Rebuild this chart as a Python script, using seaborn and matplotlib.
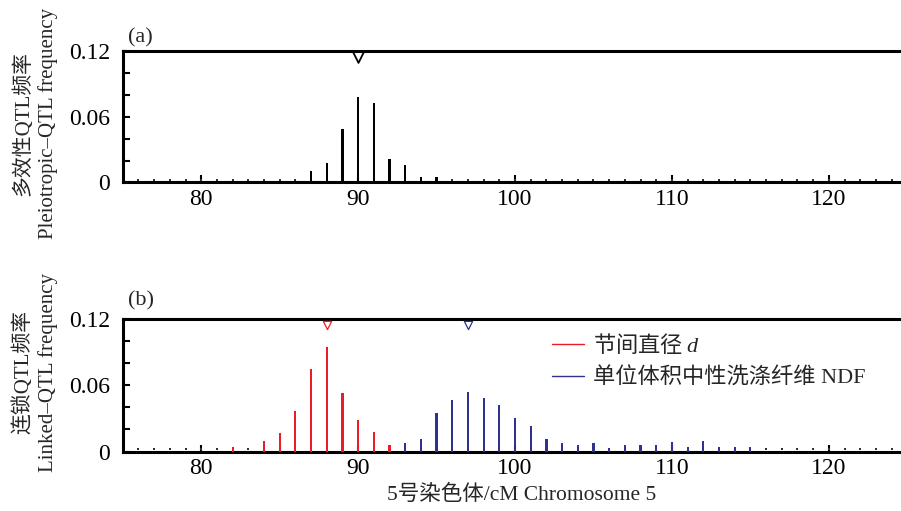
import matplotlib
matplotlib.use("Agg")
import matplotlib.pyplot as plt
from matplotlib.lines import Line2D
from matplotlib.ticker import FixedLocator
import seaborn as sns
import pandas as pd

# ---------------- data ----------------
marker_positions = [76, 77, 78, 79, 80, 81, 82, 83, 84, 85, 86, 87, 88, 89, 90,
                    91, 92, 93, 94, 95, 96, 97, 98, 99, 100, 101, 102, 103, 104,
                    105, 106, 107, 108, 109, 110, 111, 112, 113, 114, 115, 116,
                    117, 118, 119, 120, 121, 122, 123, 124]

pleio_pos = [87, 88, 89, 90, 91, 92, 93, 94, 95]
pleio_freq = [0.010, 0.018, 0.049, 0.078, 0.072, 0.021, 0.0155, 0.005, 0.005]
pleio_peak = [90]

d_pos = [82, 84, 85, 86, 87, 88, 89, 90, 91, 92]
d_freq = [0.0045, 0.010, 0.017, 0.037, 0.075, 0.095, 0.053, 0.029, 0.0175, 0.006]
d_peak = [88]

ndf_pos = [93, 94, 95, 96, 97, 98, 99, 100, 101, 102, 103, 104, 105, 106, 107,
           108, 109, 110, 111, 112, 113, 114, 115]
ndf_freq = [0.008, 0.0114, 0.0347, 0.0468, 0.0544, 0.049, 0.042, 0.0307, 0.0232,
            0.0114, 0.0075, 0.0056, 0.0075, 0.0035, 0.0056, 0.006, 0.006, 0.0084,
            0.0044, 0.0098, 0.0044, 0.0044, 0.0044]
ndf_peak = [97]

x_ticks = [80, 90, 100, 110, 120]
y_major = [0, 0.06, 0.12]
y_major_labels = ["0", "0.06", "0.12"]
y_minor = [0.02, 0.04, 0.08, 0.10]

label_d = "节间直径 $d$"
label_ndf = "单位体积中性洗涤纤维 NDF"
ylabel_top = "多效性QTL频率\nPleiotropic–QTL frequency"
ylabel_bot = "连锁QTL频率\nLinked–QTL frequency"
xlabel = "5号染色体/cM Chromosome 5"

# ---------------- style ----------------
RED = "#ED1C24"
BLUE = "#2E3192"
BLACK = "#000000"
DOT_H = 0.0025
FS_TICK = 17
FS_LAB = 15
FS_LEG = 16

sns.set_theme(style="ticks")
plt.rcParams["font.family"] = ["Liberation Serif", "Noto Sans CJK SC"]
plt.rcParams["mathtext.fontset"] = "custom"
plt.rcParams["mathtext.rm"] = "Noto Sans CJK SC"
plt.rcParams["mathtext.it"] = "Liberation Serif:italic"
plt.rcParams["axes.unicode_minus"] = False

fig = plt.figure(figsize=(9.01, 5.11), dpi=100)
ax1 = fig.add_axes([0.1363, 0.6429, 0.8637, 0.258])
ax2 = fig.add_axes([0.1363, 0.1164, 0.8637, 0.2587])

dots = pd.DataFrame({"pos": marker_positions, "h": [DOT_H] * len(marker_positions)})


def draw_dots(ax):
    sns.scatterplot(data=dots, x="pos", y="h", marker="s", s=3, color="#333333",
                    linewidth=0, ax=ax, zorder=2)


def draw_bars(ax, pos, freq, color):
    df = pd.DataFrame({"pos": pos, "freq": freq})
    sns.barplot(data=df, x="pos", y="freq", native_scale=True, orient="x",
                width=0.14, color=color, saturation=1, errorbar=None,
                linewidth=0, ax=ax, zorder=3)


def draw_peak(ax, pos, color, size, lw):
    df = pd.DataFrame({"pos": pos, "h": [0.1145] * len(pos)})
    sns.scatterplot(data=df, x="pos", y="h", marker="v", s=size,
                    facecolor="white", edgecolor=color, linewidth=lw, ax=ax,
                    zorder=5)


draw_dots(ax1)
draw_bars(ax1, pleio_pos, pleio_freq, BLACK)
draw_peak(ax1, pleio_peak, BLACK, 60, 1.3)

draw_dots(ax2)
draw_bars(ax2, d_pos, d_freq, RED)
draw_bars(ax2, ndf_pos, ndf_freq, BLUE)
draw_peak(ax2, d_peak, RED, 35, 0.9)
draw_peak(ax2, ndf_peak, BLUE, 35, 0.9)

for ax in (ax1, ax2):
    ax.set_xlim(75, 124.6)
    ax.set_ylim(0, 0.12)
    ax.set_xticks(x_ticks)
    ax.set_xticklabels([str(t) for t in x_ticks])
    ax.yaxis.set_major_locator(FixedLocator(y_major))
    ax.set_yticklabels(y_major_labels)
    ax.yaxis.set_minor_locator(FixedLocator(y_minor))
    ax.tick_params(axis="both", which="both", direction="in", length=5,
                   width=1.5, colors="black", labelsize=FS_TICK)
    ax.tick_params(axis="y", which="major", pad=9)
    ax.tick_params(axis="x", which="major", pad=5)
    for side in ("left", "bottom", "top"):
        ax.spines[side].set_linewidth(2.2)
        ax.spines[side].set_color("black")
    ax.spines["right"].set_visible(False)
    ax.set_xlabel("")

ax1.set_ylabel(ylabel_top, fontsize=FS_LAB, linespacing=1.3)
ax2.set_ylabel(ylabel_bot, fontsize=FS_LAB, linespacing=1.3)
ax1.yaxis.set_label_coords(-0.083, 0.45)
ax2.yaxis.set_label_coords(-0.083, 0.6)
ax2.set_xlabel(xlabel, fontsize=15.5)
ax2.xaxis.set_label_coords(0.513, -0.255)

ax1.text(0.007, 1.10, "(a)", transform=ax1.transAxes, fontsize=FS_LEG,
         ha="left", va="center")
ax2.text(0.007, 1.14, "(b)", transform=ax2.transAxes, fontsize=FS_LEG,
         ha="left", va="center")

handles = [Line2D([], [], color=RED, lw=1.0), Line2D([], [], color=BLUE, lw=1.0)]
leg = ax2.legend(handles, [label_d, label_ndf], loc="upper left",
                 bbox_to_anchor=(0.551, 0.905), frameon=False, fontsize=FS_LEG,
                 handlelength=1.45, handletextpad=0.42, labelspacing=0.5,
                 borderpad=0, borderaxespad=0)
# CJK-first family for the label that contains mathtext (italic d)
leg.get_texts()[0].set_fontfamily(["Noto Sans CJK SC"])

fig.savefig("out.png", dpi=100)
